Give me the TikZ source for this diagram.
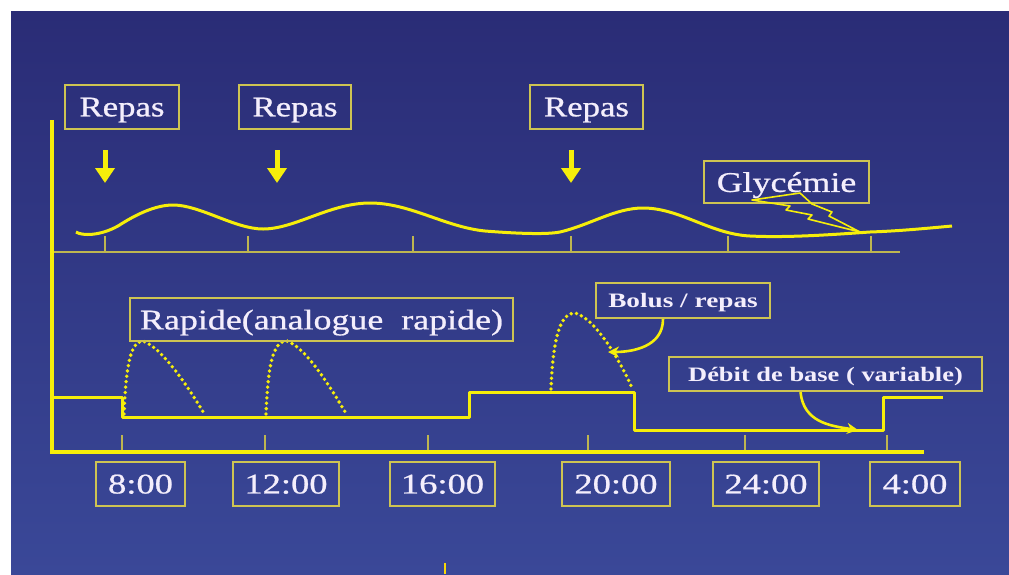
\documentclass[tikz,border=0pt]{standalone}
\usepackage{fontspec}
\setmainfont{Liberation Serif}
\newfontfamily\lblfont[FakeBold=0.7]{Liberation Serif}
\usetikzlibrary{arrows.meta}
\definecolor{bgtop}{RGB}{42,44,118}
\definecolor{bgbot}{RGB}{58,72,152}
\definecolor{yel}{RGB}{246,238,10}
\definecolor{boxyel}{RGB}{206,196,82}
\definecolor{axyel}{RGB}{190,182,80}
\definecolor{txt}{RGB}{244,238,252}
\newcommand{\stretchtxt}[2]{\scalebox{#1}[1]{#2}}
\begin{document}
\begin{tikzpicture}[x=1pt,y=-1pt,
  lbl/.style={draw=boxyel,line width=2.2pt,inner sep=0pt,text=txt,text depth=0pt,
    font=\lblfont\fontsize{28.5}{30}\selectfont},
  smalllbl/.style={draw=boxyel,line width=2.2pt,inner sep=0pt,text=txt,text depth=0pt,
    font=\fontsize{20.5}{22}\selectfont\bfseries},
  curve/.style={yel,line width=3pt,line join=round},
  axisline/.style={yel,line width=3.2pt},
  tickline/.style={axyel,line width=2pt},
  dots/.style={yel,line width=3.8pt,line cap=round,dash pattern=on 0pt off 5.4pt},
  mealarrow/.style={yel,line width=5pt,-{Triangle[width=19pt,length=15pt]}},
  callout/.style={yel,line width=2.6pt,-{Stealth[width=11pt,length=11pt]}}]
\useasboundingbox (0,0) rectangle (1009,574);
\fill[white] (0,0) rectangle (1009,574);
\shade[top color=bgtop,bottom color=bgbot] (11,11) rectangle (1009,574);

% Repas labels and arrows
\node[lbl,minimum width=114pt,minimum height=44pt] (r1) at (122,107) {\stretchtxt{1.22}{Repas}};
\node[lbl,minimum width=112pt,minimum height=44pt] (r2) at (295,107) {\stretchtxt{1.22}{Repas}};
\node[lbl,minimum width=113pt,minimum height=44pt] (r3) at (586.5,107) {\stretchtxt{1.22}{Repas}};
\coordinate (a1s) at (105,150); \coordinate (a1e) at (105,183);
\coordinate (a2s) at (277,150); \coordinate (a2e) at (277,183);
\coordinate (a3s) at (571,150); \coordinate (a3e) at (571,183);
\draw[mealarrow] (a1s) -- (a1e);
\draw[mealarrow] (a2s) -- (a2e);
\draw[mealarrow] (a3s) -- (a3e);

% axes
\coordinate (ytop) at (52,120);
\coordinate (origin) at (52,452);
\coordinate (xend) at (924,452);
\coordinate (uaxl) at (52,252);
\coordinate (uaxr) at (900,252);
\draw[tickline] (uaxl) -- (uaxr);
\foreach \x in {105,248,413,571,728,871}
  \draw[tickline] (\x,236) -- (\x,252);
\foreach \x in {122,265,428,588,745,887}
  \draw[tickline] (\x,435) -- (\x,452);
\draw[axisline,line join=miter] (ytop) -- (origin) -- (xend);

% glycemia curve
\draw[curve] (76,232) .. controls (82,236) and (100,236) .. (118,226)
  .. controls (135,215) and (155,205) .. (173,205)
  .. controls (200,205) and (235,229) .. (263,229)
  .. controls (295,229) and (330,203) .. (370,203)
  .. controls (410,203) and (445,227) .. (485,231)
  .. controls (510,233) and (545,235) .. (560,232)
  .. controls (590,225) and (615,208) .. (643,208)
  .. controls (680,208) and (710,234) .. (750,236)
  .. controls (790,238) and (840,234) .. (870,232)
  .. controls (900,231) and (930,228) .. (952,226);

% Glycemie label and lightning
\node[lbl,minimum width=165pt,minimum height=42pt] (gly) at (786.5,182) {\stretchtxt{1.26}{Glycémie}};
\draw[yel,line width=1.6pt,line join=round] (752,200) -- (800,193) -- (812,204) -- (832,212)
  -- (829,216) -- (860,232) -- (808,219) -- (812,215) -- (786,210) -- (790,206) -- cycle;

% basal rate step line
\draw[curve] (52,397) -- (122,397) -- (122,417) -- (469,417) -- (469,392) -- (634,392)
  -- (634,430) -- (883,430) -- (883,397) -- (943,397);

% bolus curves
\draw[dots] (124,414) .. controls (126,368) and (130,341) .. (143,341)
  .. controls (163,348) and (190,390) .. (205,415);
\draw[dots] (266,414) .. controls (268,368) and (272,341) .. (287,341)
  .. controls (307,348) and (332,390) .. (347,415);
\draw[dots] (551,389) .. controls (553,338) and (560,313) .. (575,313)
  .. controls (595,318) and (620,360) .. (633,390);

% lower labels
\node[lbl,minimum width=383pt,minimum height=43pt] (rap) at (321.5,319.5) {\stretchtxt{1.26}{Rapide(analogue\ \ rapide)}};
\node[smalllbl,minimum width=174pt,minimum height=35pt] (bol) at (683,300.5) {\stretchtxt{1.33}{Bolus / repas}};
\node[smalllbl,minimum width=313pt,minimum height=34pt] (deb) at (825.5,374) {\stretchtxt{1.29}{Débit\ de\ base\ ( variable)}};
\coordinate (bolend) at (608,352);
\coordinate (debend) at (858,430);
\draw[callout] ([xshift=-20pt]bol.south) .. controls +(0,28) and +(24,0) .. (bolend);
\draw[callout] ([xshift=-25pt]deb.south) .. controls +(3,30) and +(-28,-4) .. (debend);

% time labels
\node[lbl,minimum width=89pt,minimum height=44pt] (t8) at (140.5,484) {\stretchtxt{1.28}{8:00}};
\node[lbl,minimum width=106pt,minimum height=44pt] (t12) at (286,484) {\stretchtxt{1.28}{12:00}};
\node[lbl,minimum width=105pt,minimum height=44pt] (t16) at (442.5,484) {\stretchtxt{1.28}{16:00}};
\node[lbl,minimum width=108pt,minimum height=44pt] (t20) at (616,484) {\stretchtxt{1.28}{20:00}};
\node[lbl,minimum width=106pt,minimum height=44pt] (t24) at (766,484) {\stretchtxt{1.28}{24:00}};
\node[lbl,minimum width=90pt,minimum height=44pt] (t4) at (915,484) {\stretchtxt{1.28}{4:00}};

% small mark at bottom
\coordinate (mk1) at (445,563);
\coordinate (mk2) at (445,574);
\draw[yel!80!orange,line width=1.4pt] (mk1) -- (mk2);
\end{tikzpicture}
\end{document}
